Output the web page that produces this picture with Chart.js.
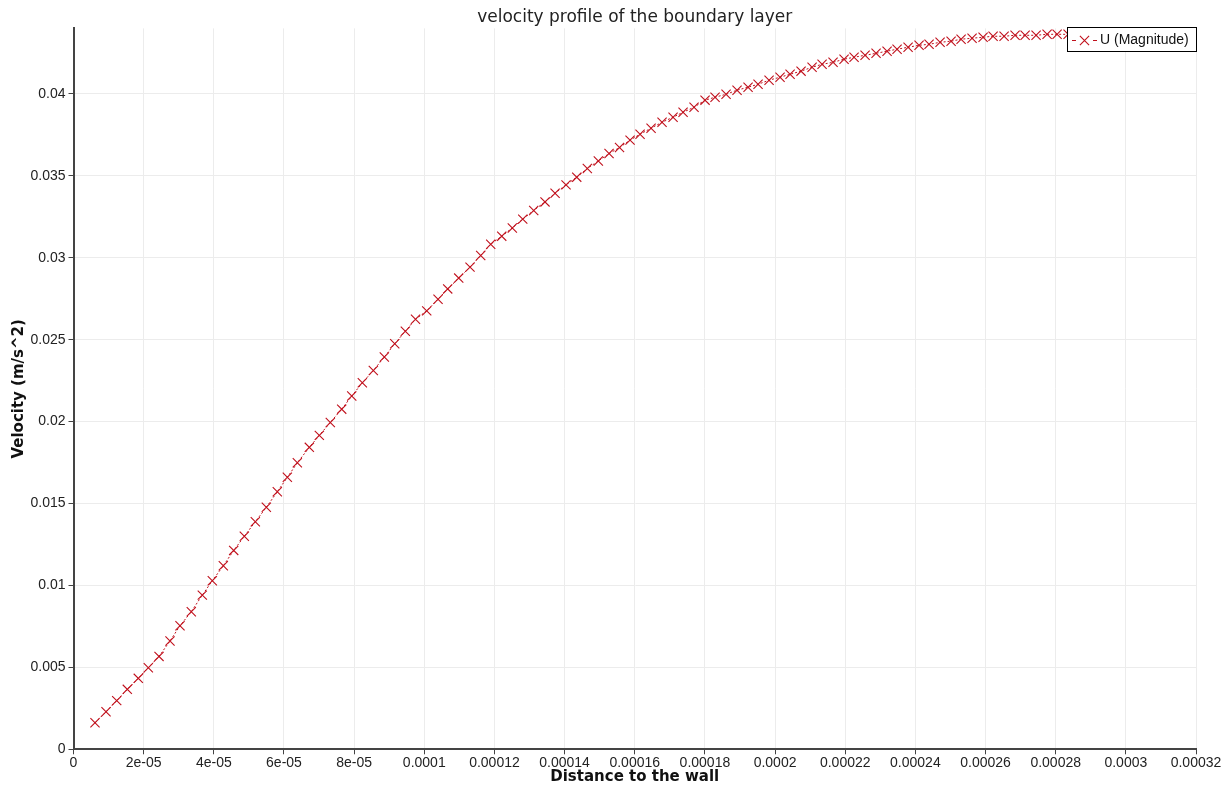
<!DOCTYPE html>
<html>
<head>
<meta charset="utf-8">
<title>velocity profile of the boundary layer</title>
<script src="https://cdn.jsdelivr.net/npm/chart.js@4.4.1/dist/chart.umd.min.js"></script>
<style>
  html, body { margin: 0; padding: 0; background: #fff; }
  #wrap { width: 1227px; height: 787px; }
</style>
</head>
<body>
<div id="wrap"><canvas id="chart" width="1227" height="787"></canvas></div>
<script>
// distance to the wall (m)
const distance = [
  6.13e-6, 9.27e-6, 1.232e-5, 1.534e-5, 1.847e-5, 2.133e-5, 2.438e-5, 2.751e-5, 3.036e-5, 3.358e-5,
  3.672e-5, 3.957e-5, 4.271e-5, 4.567e-5, 4.870e-5, 5.183e-5, 5.497e-5, 5.810e-5, 6.096e-5, 6.381e-5,
  6.723e-5, 7.008e-5, 7.321e-5, 7.646e-5, 7.932e-5, 8.234e-5, 8.547e-5, 8.861e-5, 9.158e-5, 9.460e-5,
  9.750e-5, 1.0070e-4, 1.0392e-4, 1.0668e-4, 1.0982e-4, 1.1304e-4, 1.1609e-4, 1.1894e-4, 1.2208e-4, 1.2510e-4,
  1.2807e-4, 1.3120e-4, 1.3442e-4, 1.3728e-4, 1.4041e-4, 1.4346e-4, 1.4648e-4, 1.4962e-4, 1.5267e-4, 1.5566e-4,
  1.5866e-4, 1.6151e-4, 1.6465e-4, 1.6778e-4, 1.7092e-4, 1.7377e-4, 1.7690e-4, 1.8004e-4, 1.8289e-4, 1.8603e-4,
  1.8916e-4, 1.9230e-4, 1.9515e-4, 1.9829e-4, 2.0142e-4, 2.0428e-4, 2.0741e-4, 2.1055e-4, 2.1340e-4, 2.1653e-4,
  2.1967e-4, 2.2252e-4, 2.2566e-4, 2.2879e-4, 2.3193e-4, 2.3478e-4, 2.3792e-4, 2.4105e-4, 2.4390e-4, 2.4704e-4,
  2.5018e-4, 2.5303e-4, 2.5616e-4, 2.5930e-4, 2.6215e-4, 2.6529e-4, 2.6842e-4, 2.7128e-4, 2.7441e-4, 2.7755e-4,
  2.8040e-4, 2.8354e-4
];

// U (Magnitude)
const velocity = [
  0.00162, 0.00229, 0.00297, 0.00366, 0.00433, 0.00498, 0.00567, 0.00661, 0.00754, 0.00840,
  0.00941, 0.01029, 0.01120, 0.01214, 0.01300, 0.01389, 0.01477, 0.01572, 0.01660, 0.01749,
  0.01843, 0.01916, 0.01995, 0.02076, 0.02156, 0.02237, 0.02312, 0.02394, 0.02475, 0.02552,
  0.02625, 0.02676, 0.02747, 0.02810, 0.02876, 0.02943, 0.03014, 0.03083, 0.03132, 0.03182,
  0.03236, 0.03289, 0.03341, 0.03394, 0.03445, 0.03492, 0.03545, 0.03591, 0.03636, 0.03673,
  0.03718, 0.03754, 0.03791, 0.03827, 0.03858, 0.03888, 0.03919, 0.03962, 0.03980, 0.03998,
  0.04023, 0.04041, 0.04059, 0.04084, 0.04102, 0.04120, 0.04139, 0.04163, 0.04181, 0.04193,
  0.04212, 0.04224, 0.04236, 0.04248, 0.04261, 0.04273, 0.04285, 0.04297, 0.04303, 0.04315,
  0.04322, 0.04334, 0.04340, 0.04346, 0.04352, 0.04352, 0.04358, 0.04358, 0.04358, 0.04364,
  0.04364, 0.04364
];

const xTickLabels = ['0', '2e-05', '4e-05', '6e-05', '8e-05', '0.0001', '0.00012', '0.00014', '0.00016',
  '0.00018', '0.0002', '0.00022', '0.00024', '0.00026', '0.00028', '0.0003', '0.00032'];
const yTickLabels = ['0', '0.005', '0.01', '0.015', '0.02', '0.025', '0.03', '0.035', '0.04'];

const seriesLabel = 'U (Magnitude)';
const red = 'rgb(192,16,28)';
const tickFont = { family: '"Liberation Sans", Arial, sans-serif', size: 14 };

// boxed legend in the top right corner of the plot, like the paraview one
const boxedLegend = {
  id: 'boxedLegend',
  afterDraw(chart) {
    const { ctx, chartArea } = chart;
    const ds = chart.data.datasets[0];
    ctx.save();
    ctx.font = '14px "Liberation Sans", Arial, sans-serif';
    const w = Math.round(ctx.measureText(ds.label).width + 41);
    const h = 25;
    const x = Math.round(chartArea.right + 1 - w);
    const y = Math.round(chartArea.top - 1);
    ctx.fillStyle = '#fff';
    ctx.fillRect(x, y, w, h);
    ctx.strokeStyle = '#000';
    ctx.lineWidth = 1;
    ctx.strokeRect(x + 0.5, y + 0.5, w - 1, h - 1);

    const cy = y + 13.5;
    const cx = x + 17.5;
    const r = 4.6;
    ctx.strokeStyle = ds.borderColor;
    ctx.lineWidth = 1.1;
    ctx.beginPath();
    ctx.moveTo(x + 5, cy); ctx.lineTo(x + 9, cy);
    ctx.moveTo(x + 26, cy); ctx.lineTo(x + 30, cy);
    ctx.moveTo(cx - r, cy - r); ctx.lineTo(cx + r, cy + r);
    ctx.moveTo(cx + r, cy - r); ctx.lineTo(cx - r, cy + r);
    ctx.stroke();

    ctx.fillStyle = '#111';
    ctx.textBaseline = 'middle';
    ctx.textAlign = 'left';
    ctx.fillText(ds.label, x + 33, cy);
    ctx.restore();
  }
};

new Chart(document.getElementById('chart'), {
  type: 'scatter',
  data: {
    datasets: [{
      label: seriesLabel,
      data: distance.map((d, i) => ({ x: d, y: velocity[i] })),
      showLine: true,
      borderColor: red,
      borderWidth: 1,
      borderDash: [2, 2],
      pointStyle: 'crossRot',
      pointRadius: 6.5,
      pointBorderWidth: 1.1,
      pointBorderColor: red,
      pointBackgroundColor: 'transparent',
      tension: 0,
    }]
  },
  options: {
    responsive: false,
    animation: false,
    events: [],
    layout: { padding: { left: 0, right: 31, top: 0, bottom: 0 } },
    plugins: {
      legend: { display: false },
      tooltip: { enabled: false },
      title: {
        display: true,
        fullSize: false,
        text: 'velocity profile of the boundary layer',
        color: '#222',
        font: { family: '"DejaVu Sans", sans-serif', size: 17, weight: 'normal' },
        padding: { top: 7, bottom: 1 },
      },
    },
    scales: {
      x: {
        type: 'linear',
        min: 0,
        max: 0.00032,
        afterFit: (scale) => { scale.height = 37.7; },
        ticks: {
          stepSize: 0.00002,
          includeBounds: false,
          autoSkip: false,
          maxRotation: 0,
          padding: 0,
          color: '#222',
          font: tickFont,
          callback: (value, index) => xTickLabels[index] ?? '',
        },
        grid: { color: '#ececec', lineWidth: 1, tickLength: 5, tickColor: '#444' },
        border: { color: '#444', width: 2 },
        title: {
          display: true,
          text: 'Distance to the wall',
          color: '#111',
          font: { family: '"DejaVu Sans", sans-serif', size: 15, weight: 'bold' },
          padding: { top: 0, bottom: 1 },
        },
      },
      y: {
        type: 'linear',
        min: 0,
        max: 0.044,
        afterFit: (scale) => { scale.width = 73.5; },
        ticks: {
          stepSize: 0.005,
          includeBounds: false,
          autoSkip: false,
          padding: 3,
          color: '#222',
          font: tickFont,
          callback: (value, index) => yTickLabels[index] ?? '',
        },
        grid: { color: '#ececec', lineWidth: 1, tickLength: 5, tickColor: '#444' },
        border: { color: '#444', width: 2 },
        title: {
          display: true,
          text: 'Velocity (m/s^2)',
          color: '#111',
          font: { family: '"DejaVu Sans", sans-serif', size: 15, weight: 'bold' },
          padding: { top: 10, bottom: 0 },
        },
      },
    },
  },
  plugins: [boxedLegend],
});
</script>
</body>
</html>
